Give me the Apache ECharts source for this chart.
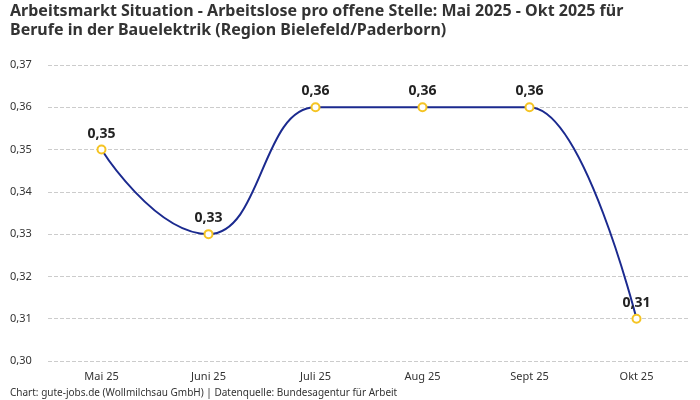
<!DOCTYPE html>
<html>
<head>
<meta charset="utf-8">
<script src="https://cdn.jsdelivr.net/npm/echarts@6/dist/echarts.min.js"></script>
<style>
	html, body { margin: 0; padding: 0; background: #fff; }
	#chart { width: 700px; height: 400px; }
</style>
</head>
<body>
<div id="chart"></div>
<script>
var months = ['Mai 25', 'Juni 25', 'Juli 25', 'Aug 25', 'Sept 25', 'Okt 25'];
var values = [0.35, 0.33, 0.36, 0.36, 0.36, 0.31];
var yTicks = { min: 0.30, max: 0.37, interval: 0.01 };

function fmt(v) {
	return v.toFixed(2).replace('.', ',');
}

var option = {
	animation: false,
	textStyle: { fontFamily: 'Noto Sans' },
	title: {
		left: 10,
		top: 2,
		padding: 0,
		text: 'Arbeitsmarkt Situation - Arbeitslose pro offene Stelle: Mai 2025 - Okt 2025 für\nBerufe in der Bauelektrik (Region Bielefeld/Paderborn)',
		textStyle: {
			color: '#333',
			fontSize: 16,
			fontWeight: 'bold',
			lineHeight: 19
		}
	},
	graphic: [{
		type: 'text',
		left: 10,
		top: 388,
		style: {
			text: 'Chart: gute-jobs.de (Wollmilchsau GmbH) | Datenquelle: Bundesagentur für Arbeit',
			fill: '#333',
			font: '10px "Noto Sans"'
		}
	}],
	grid: {
		left: 48,
		right: 10,
		top: 65,
		bottom: 39,
		containLabel: false,
		outerBoundsMode: 'none'
	},
	xAxis: {
		type: 'category',
		data: months,
		axisLine: { show: false },
		axisTick: { show: false },
		axisLabel: { color: '#333', fontSize: 11, margin: 10 }
	},
	yAxis: {
		type: 'value',
		min: yTicks.min,
		max: yTicks.max,
		interval: yTicks.interval,
		axisLabel: {
			color: '#333',
			fontSize: 11,
			margin: 38,
			align: 'left',
			formatter: fmt
		},
		splitLine: { lineStyle: { color: '#ccc', type: 'dashed' } }
	},
	series: [{
		type: 'line',
		data: values,
		smooth: true,
		smoothMonotone: 'x',
		symbol: 'circle',
		symbolSize: 8,
		lineStyle: { color: '#1b2a8f', width: 2 },
		itemStyle: { color: '#fff', borderColor: '#f5c423', borderWidth: 2 },
		label: {
			show: true,
			position: 'top',
			distance: 4,
			color: '#222',
			fontSize: 14,
			fontWeight: 'bold',
			formatter: function(p) { return fmt(p.value); }
		}
	}]
};

var chart = echarts.init(document.getElementById('chart'));
chart.setOption(option);
</script>
</body>
</html>
